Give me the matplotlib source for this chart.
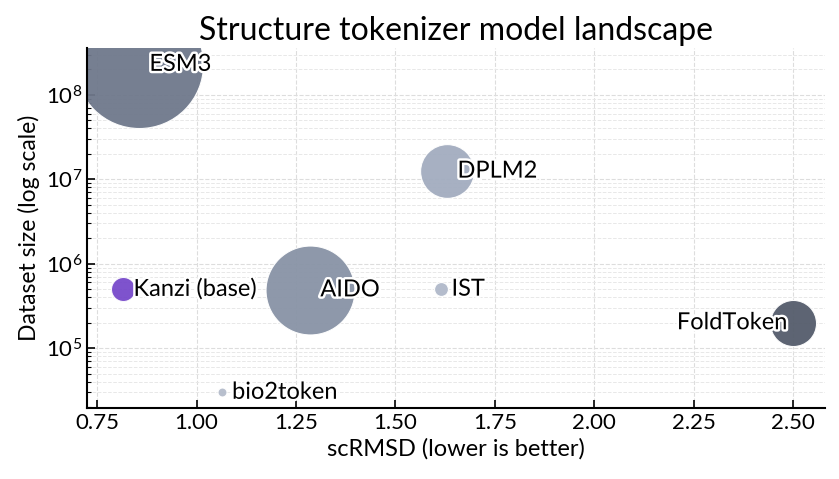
import matplotlib
matplotlib.use('Agg')
import matplotlib.pyplot as plt
import matplotlib.patheffects as pe

plt.rcParams['font.family'] = ['Lato', 'DejaVu Sans']

# data
models = ['ESM3', 'DPLM2', 'Kanzi (base)', 'AIDO', 'IST', 'FoldToken', 'bio2token']
scrmsd = [0.855, 1.63, 0.815, 1.285, 1.615, 2.50, 1.063]
dataset_size = [2.3e8, 1.25e7, 5e5, 4.9e5, 5e5, 2e5, 3e4]
bubble_area = [8500, 1500, 300, 4100, 100, 1100, 42]
colors = ['#6f788b', '#a2acbf', '#7040c8', '#8893a6', '#b0b9ca', '#545c6b', '#b4bccb']
alphas = [0.95, 0.95, 0.9, 0.95, 0.95, 0.95, 0.95]

fig, ax = plt.subplots(figsize=(8.39, 4.79), dpi=100)
fig.subplots_adjust(left=0.104, right=0.983, top=0.9, bottom=0.148)

ax.set_yscale('log')
ax.grid(True, which='major', linestyle='--', color='#dddddd', linewidth=0.8)
ax.grid(True, which='minor', axis='y', linestyle='--', color='#e8e8e8', linewidth=0.7)
ax.set_axisbelow(True)

for i in range(len(models)):
    ax.scatter(scrmsd[i], dataset_size[i], s=bubble_area[i], color=colors[i],
               alpha=alphas[i], edgecolors='white', linewidths=0.8, zorder=2)
    ax.annotate(models[i], (scrmsd[i], dataset_size[i]), xytext=(7.5, 0),
                textcoords='offset points', va='center', ha='left', fontsize=17,
                zorder=3, path_effects=[pe.withStroke(linewidth=3.5, foreground='white')])

# FoldToken label sits to the left of its bubble centre
ax.texts[5].set_ha('right')
ax.texts[5].set_position((-4, 0))

ax.set_xlim(0.725, 2.58)
ax.set_ylim(1.95e4, 3.6e8)
ax.set_xticks([0.75, 1.00, 1.25, 1.50, 1.75, 2.00, 2.25, 2.50])
ax.set_xticklabels(['0.75', '1.00', '1.25', '1.50', '1.75', '2.00', '2.25', '2.50'])

ax.spines['top'].set_visible(False)
ax.spines['right'].set_visible(False)
ax.spines['left'].set_linewidth(1.5)
ax.spines['bottom'].set_linewidth(1.5)
ax.tick_params(which='both', direction='in', labelsize=16)
ax.tick_params(which='major', length=6, width=1.2)
ax.tick_params(which='minor', length=3, width=0.8)

ax.set_xlabel('scRMSD (lower is better)', fontsize=17)
ax.set_ylabel('Dataset size (log scale)', fontsize=16.5)
ax.set_title('Structure tokenizer model landscape', fontsize=23)

fig.savefig('out.png', dpi=100)
